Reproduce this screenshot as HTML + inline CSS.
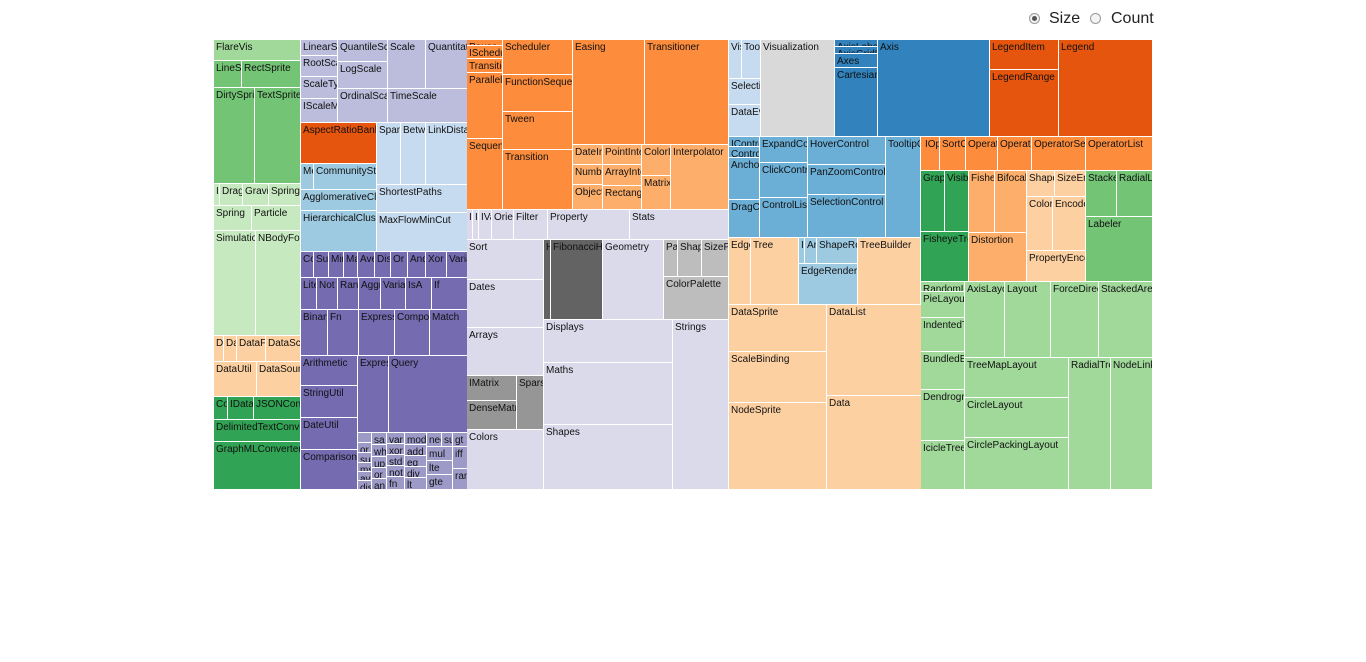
<!DOCTYPE html>
<html><head><meta charset="utf-8"><style>
body{margin:0;width:1366px;height:662px;background:#fff;font-family:"Liberation Sans",Arial,sans-serif;position:relative;overflow:hidden}
#t div{position:absolute;box-sizing:border-box;border-right:1px solid #fff;border-bottom:1px solid #fff;overflow:hidden;white-space:nowrap;font-size:10px;line-height:11px;padding:2px 0 0 2px;color:#111}
.a{background:#a1d99b}.b{background:#74c476}.c{background:#c7e9c0}.d{background:#fdd0a2}.e{background:#31a354}
.s{background:#bcbddc}.k{background:#9ecae1}.r{background:#e6550d}.g{background:#c6dbef}.q{background:#756bb1}.m{background:#9e9ac8}
.o{background:#fd8d3c}.i{background:#fdae6b}.u{background:#dadaeb}.h{background:#636363}.p{background:#bdbdbd}.x{background:#969696}
.v{background:#d9d9d9}.ax{background:#3182bd}.ct{background:#6baed6}
.ctl{position:absolute;top:10px;font-size:16px;color:#222}
.rad{position:absolute;top:13px;width:11px;height:11px;border-radius:50%;border:1px solid #999;box-sizing:border-box;background:#f4f4f4}
</style></head><body>
<div class="rad" style="left:1029px"><div style="position:absolute;left:2px;top:2px;width:5px;height:5px;border-radius:50%;background:#555"></div></div>
<div class="ctl" style="left:1049px">Size</div>
<div class="rad" style="left:1090px"></div>
<div class="ctl" style="left:1111px">Count</div>
<div id="t">
<div class="a" style="left:214px;top:40px;width:87px;height:21px">FlareVis</div>
<div class="b" style="left:214px;top:61px;width:28px;height:27px">LineSprite</div>
<div class="b" style="left:242px;top:61px;width:59px;height:27px">RectSprite</div>
<div class="b" style="left:214px;top:88px;width:41px;height:96px">DirtySprite</div>
<div class="b" style="left:255px;top:88px;width:46px;height:96px">TextSprite</div>
<div class="c" style="left:214px;top:184px;width:6px;height:22px">I</div>
<div class="c" style="left:220px;top:184px;width:23px;height:22px">DragForce</div>
<div class="c" style="left:243px;top:184px;width:26px;height:22px">GravityForce</div>
<div class="c" style="left:269px;top:184px;width:32px;height:22px">SpringForce</div>
<div class="c" style="left:214px;top:206px;width:38px;height:25px">Spring</div>
<div class="c" style="left:252px;top:206px;width:49px;height:25px">Particle</div>
<div class="c" style="left:214px;top:231px;width:42px;height:105px">Simulation</div>
<div class="c" style="left:256px;top:231px;width:45px;height:105px">NBodyForce</div>
<div class="d" style="left:214px;top:336px;width:10px;height:26px">D</div>
<div class="d" style="left:224px;top:336px;width:13px;height:26px">Da</div>
<div class="d" style="left:237px;top:336px;width:29px;height:26px">DataField</div>
<div class="d" style="left:266px;top:336px;width:35px;height:26px">DataSchema</div>
<div class="d" style="left:214px;top:362px;width:43px;height:35px">DataUtil</div>
<div class="d" style="left:257px;top:362px;width:44px;height:35px">DataSource</div>
<div class="e" style="left:214px;top:397px;width:14px;height:23px">Co</div>
<div class="e" style="left:228px;top:397px;width:26px;height:23px">IDataConverter</div>
<div class="e" style="left:254px;top:397px;width:47px;height:23px">JSONConverter</div>
<div class="e" style="left:214px;top:420px;width:87px;height:22px">DelimitedTextConverter</div>
<div class="e" style="left:214px;top:442px;width:87px;height:48px">GraphMLConverter</div>

<div class="s" style="left:301px;top:40px;width:37px;height:16px">LinearScale</div>
<div class="s" style="left:301px;top:56px;width:37px;height:21px">RootScale</div>
<div class="s" style="left:301px;top:77px;width:37px;height:22px">ScaleType</div>
<div class="s" style="left:301px;top:99px;width:37px;height:24px">IScaleMap</div>
<div class="s" style="left:338px;top:40px;width:50px;height:22px">QuantileScale</div>
<div class="s" style="left:338px;top:62px;width:50px;height:27px">LogScale</div>
<div class="s" style="left:388px;top:40px;width:38px;height:49px">Scale</div>
<div class="s" style="left:426px;top:40px;width:42px;height:49px">QuantitativeScale</div>
<div class="s" style="left:338px;top:89px;width:50px;height:34px">OrdinalScale</div>
<div class="s" style="left:388px;top:89px;width:80px;height:34px">TimeScale</div>
<div class="r" style="left:301px;top:123px;width:76px;height:41px">AspectRatioBanker</div>
<div class="k" style="left:301px;top:164px;width:13px;height:26px">MergeEdge</div>
<div class="k" style="left:314px;top:164px;width:63px;height:26px">CommunityStructure</div>
<div class="k" style="left:301px;top:190px;width:76px;height:21px">AgglomerativeCluster</div>
<div class="k" style="left:301px;top:211px;width:76px;height:41px">HierarchicalCluster</div>
<div class="g" style="left:377px;top:123px;width:24px;height:62px">SpanningTree</div>
<div class="g" style="left:401px;top:123px;width:25px;height:62px">BetweennessCentrality</div>
<div class="g" style="left:426px;top:123px;width:42px;height:62px">LinkDistance</div>
<div class="g" style="left:377px;top:185px;width:91px;height:28px">ShortestPaths</div>
<div class="g" style="left:377px;top:213px;width:91px;height:39px">MaxFlowMinCut</div>

<div class="q" style="left:301px;top:252px;width:13px;height:26px">Count</div>
<div class="q" style="left:314px;top:252px;width:15px;height:26px">Sum</div>
<div class="q" style="left:329px;top:252px;width:15px;height:26px">Min</div>
<div class="q" style="left:344px;top:252px;width:14px;height:26px">Max</div>
<div class="q" style="left:358px;top:252px;width:17px;height:26px">Average</div>
<div class="q" style="left:375px;top:252px;width:16px;height:26px">Distinct</div>
<div class="q" style="left:391px;top:252px;width:17px;height:26px">Or</div>
<div class="q" style="left:408px;top:252px;width:18px;height:26px">And</div>
<div class="q" style="left:426px;top:252px;width:21px;height:26px">Xor</div>
<div class="q" style="left:447px;top:252px;width:21px;height:26px">Variance</div>
<div class="q" style="left:301px;top:278px;width:16px;height:32px">Literal</div>
<div class="q" style="left:317px;top:278px;width:21px;height:32px">Not</div>
<div class="q" style="left:338px;top:278px;width:21px;height:32px">Range</div>
<div class="q" style="left:359px;top:278px;width:22px;height:32px">AggregateExpression</div>
<div class="q" style="left:381px;top:278px;width:25px;height:32px">Variable</div>
<div class="q" style="left:406px;top:278px;width:26px;height:32px">IsA</div>
<div class="q" style="left:432px;top:278px;width:36px;height:32px">If</div>
<div class="q" style="left:301px;top:310px;width:27px;height:46px">BinaryExpression</div>
<div class="q" style="left:328px;top:310px;width:31px;height:46px">Fn</div>
<div class="q" style="left:359px;top:310px;width:36px;height:46px">ExpressionIterator</div>
<div class="q" style="left:395px;top:310px;width:35px;height:46px">CompositeExpression</div>
<div class="q" style="left:430px;top:310px;width:38px;height:46px">Match</div>
<div class="q" style="left:301px;top:356px;width:57px;height:30px">Arithmetic</div>
<div class="q" style="left:301px;top:386px;width:57px;height:32px">StringUtil</div>
<div class="q" style="left:301px;top:418px;width:57px;height:32px">DateUtil</div>
<div class="q" style="left:301px;top:450px;width:57px;height:40px">Comparison</div>
<div class="q" style="left:358px;top:356px;width:31px;height:77px">Expression</div>
<div class="q" style="left:389px;top:356px;width:79px;height:77px">Query</div>
<div class="m" style="left:358px;top:433px;width:14px;height:10px"></div>
<div class="m" style="left:358px;top:443px;width:14px;height:10px">or</div>
<div class="m" style="left:358px;top:453px;width:14px;height:10px">su</div>
<div class="m" style="left:358px;top:463px;width:14px;height:9px">ms</div>
<div class="m" style="left:358px;top:472px;width:14px;height:9px">av</div>
<div class="m" style="left:358px;top:481px;width:14px;height:9px">dis</div>
<div class="m" style="left:372px;top:433px;width:15px;height:12px">sa</div>
<div class="m" style="left:372px;top:445px;width:15px;height:12px">wh</div>
<div class="m" style="left:372px;top:457px;width:15px;height:11px">up</div>
<div class="m" style="left:372px;top:468px;width:15px;height:11px">or</div>
<div class="m" style="left:372px;top:479px;width:15px;height:11px">an</div>
<div class="m" style="left:387px;top:433px;width:18px;height:11px">var</div>
<div class="m" style="left:387px;top:444px;width:18px;height:11px">xor</div>
<div class="m" style="left:387px;top:455px;width:18px;height:11px">std</div>
<div class="m" style="left:387px;top:466px;width:18px;height:11px">not</div>
<div class="m" style="left:387px;top:477px;width:18px;height:13px">fn</div>
<div class="m" style="left:405px;top:433px;width:22px;height:12px">mod</div>
<div class="m" style="left:405px;top:445px;width:22px;height:11px">add</div>
<div class="m" style="left:405px;top:456px;width:22px;height:11px">eq</div>
<div class="m" style="left:405px;top:467px;width:22px;height:11px">div</div>
<div class="m" style="left:405px;top:478px;width:22px;height:12px">lt</div>
<div class="m" style="left:427px;top:433px;width:15px;height:14px">neq</div>
<div class="m" style="left:442px;top:433px;width:11px;height:14px">sub</div>
<div class="m" style="left:453px;top:433px;width:15px;height:14px">gt</div>
<div class="m" style="left:427px;top:447px;width:26px;height:14px">mul</div>
<div class="m" style="left:453px;top:447px;width:15px;height:22px">iff</div>
<div class="m" style="left:427px;top:461px;width:26px;height:14px">lte</div>
<div class="m" style="left:427px;top:475px;width:26px;height:15px">gte</div>
<div class="m" style="left:453px;top:469px;width:15px;height:21px">range</div>

<div class="o" style="left:467px;top:40px;width:36px;height:6px">Pause</div>
<div class="o" style="left:467px;top:46px;width:36px;height:13px">ISchedulable</div>
<div class="o" style="left:467px;top:59px;width:36px;height:14px">Transition</div>
<div class="o" style="left:467px;top:73px;width:36px;height:66px">Parallel</div>
<div class="o" style="left:467px;top:139px;width:36px;height:71px">Sequence</div>
<div class="o" style="left:503px;top:40px;width:70px;height:35px">Scheduler</div>
<div class="o" style="left:503px;top:75px;width:70px;height:37px">FunctionSequence</div>
<div class="o" style="left:503px;top:112px;width:70px;height:38px">Tween</div>
<div class="o" style="left:503px;top:150px;width:70px;height:60px">Transition</div>
<div class="o" style="left:573px;top:40px;width:72px;height:105px">Easing</div>
<div class="o" style="left:645px;top:40px;width:84px;height:105px">Transitioner</div>
<div class="i" style="left:573px;top:145px;width:30px;height:20px">DateInterpolator</div>
<div class="i" style="left:573px;top:165px;width:30px;height:20px">NumberInterpolator</div>
<div class="i" style="left:573px;top:185px;width:30px;height:25px">ObjectInterpolator</div>
<div class="i" style="left:603px;top:145px;width:39px;height:20px">PointInterpolator</div>
<div class="i" style="left:603px;top:165px;width:39px;height:21px">ArrayInterpolator</div>
<div class="i" style="left:603px;top:186px;width:39px;height:24px">RectangleInterpolator</div>
<div class="i" style="left:642px;top:145px;width:29px;height:31px">ColorInterpolator</div>
<div class="i" style="left:642px;top:176px;width:29px;height:34px">Matrix</div>
<div class="i" style="left:671px;top:145px;width:58px;height:65px">Interpolator</div>
<div class="u" style="left:467px;top:210px;width:6px;height:30px">I</div>
<div class="u" style="left:473px;top:210px;width:6px;height:30px">I</div>
<div class="u" style="left:479px;top:210px;width:13px;height:30px">IValue</div>
<div class="u" style="left:492px;top:210px;width:22px;height:30px">Orientation</div>
<div class="u" style="left:514px;top:210px;width:34px;height:30px">Filter</div>
<div class="u" style="left:548px;top:210px;width:82px;height:30px">Property</div>
<div class="u" style="left:630px;top:210px;width:99px;height:30px">Stats</div>
<div class="u" style="left:467px;top:240px;width:77px;height:40px">Sort</div>
<div class="u" style="left:467px;top:280px;width:77px;height:48px">Dates</div>
<div class="u" style="left:467px;top:328px;width:77px;height:48px">Arrays</div>
<div class="x" style="left:467px;top:376px;width:50px;height:25px">IMatrix</div>
<div class="x" style="left:467px;top:401px;width:50px;height:29px">DenseMatrix</div>
<div class="x" style="left:517px;top:376px;width:27px;height:54px">SparseMatrix</div>
<div class="u" style="left:467px;top:430px;width:77px;height:60px">Colors</div>
<div class="h" style="left:544px;top:240px;width:7px;height:80px">HeapNode</div>
<div class="h" style="left:551px;top:240px;width:52px;height:80px">FibonacciHeap</div>
<div class="u" style="left:603px;top:240px;width:61px;height:80px">Geometry</div>
<div class="p" style="left:664px;top:240px;width:14px;height:37px">Palette</div>
<div class="p" style="left:678px;top:240px;width:24px;height:37px">ShapePalette</div>
<div class="p" style="left:702px;top:240px;width:27px;height:37px">SizePalette</div>
<div class="p" style="left:664px;top:277px;width:65px;height:43px">ColorPalette</div>
<div class="u" style="left:544px;top:320px;width:129px;height:43px">Displays</div>
<div class="u" style="left:544px;top:363px;width:129px;height:62px">Maths</div>
<div class="u" style="left:544px;top:425px;width:129px;height:65px">Shapes</div>
<div class="u" style="left:673px;top:320px;width:56px;height:170px">Strings</div>

<div class="g" style="left:729px;top:40px;width:13px;height:39px">VisualizationEvent</div>
<div class="g" style="left:742px;top:40px;width:19px;height:39px">TooltipEvent</div>
<div class="g" style="left:729px;top:79px;width:32px;height:26px">SelectionEvent</div>
<div class="g" style="left:729px;top:105px;width:32px;height:32px">DataEvent</div>
<div class="v" style="left:761px;top:40px;width:74px;height:97px">Visualization</div>
<div class="ax" style="left:835px;top:40px;width:43px;height:7px">AxisLabel</div>
<div class="ax" style="left:835px;top:47px;width:43px;height:7px">AxisGridLine</div>
<div class="ax" style="left:835px;top:54px;width:43px;height:14px">Axes</div>
<div class="ax" style="left:835px;top:68px;width:43px;height:69px">CartesianAxes</div>
<div class="ax" style="left:878px;top:40px;width:112px;height:97px">Axis</div>
<div class="r" style="left:990px;top:40px;width:69px;height:30px">LegendItem</div>
<div class="r" style="left:990px;top:70px;width:69px;height:67px">LegendRange</div>
<div class="r" style="left:1059px;top:40px;width:94px;height:97px">Legend</div>
<div class="ct" style="left:729px;top:137px;width:31px;height:10px">IControl</div>
<div class="ct" style="left:729px;top:147px;width:31px;height:11px">Control</div>
<div class="ct" style="left:729px;top:158px;width:31px;height:42px">AnchorControl</div>
<div class="ct" style="left:729px;top:200px;width:31px;height:38px">DragControl</div>
<div class="ct" style="left:760px;top:137px;width:48px;height:26px">ExpandControl</div>
<div class="ct" style="left:760px;top:163px;width:48px;height:35px">ClickControl</div>
<div class="ct" style="left:760px;top:198px;width:48px;height:40px">ControlList</div>
<div class="ct" style="left:808px;top:137px;width:78px;height:28px">HoverControl</div>
<div class="ct" style="left:808px;top:165px;width:78px;height:30px">PanZoomControl</div>
<div class="ct" style="left:808px;top:195px;width:78px;height:43px">SelectionControl</div>
<div class="ct" style="left:886px;top:137px;width:35px;height:101px">TooltipControl</div>
<div class="d" style="left:729px;top:238px;width:22px;height:67px">EdgeSprite</div>
<div class="d" style="left:751px;top:238px;width:48px;height:67px">Tree</div>
<div class="k" style="left:799px;top:238px;width:6px;height:26px">I</div>
<div class="k" style="left:805px;top:238px;width:12px;height:26px">ArrowType</div>
<div class="k" style="left:817px;top:238px;width:41px;height:26px">ShapeRenderer</div>
<div class="k" style="left:799px;top:264px;width:59px;height:41px">EdgeRenderer</div>
<div class="d" style="left:858px;top:238px;width:63px;height:67px">TreeBuilder</div>
<div class="d" style="left:729px;top:305px;width:98px;height:47px">DataSprite</div>
<div class="d" style="left:729px;top:352px;width:98px;height:51px">ScaleBinding</div>
<div class="d" style="left:729px;top:403px;width:98px;height:87px">NodeSprite</div>
<div class="d" style="left:827px;top:305px;width:95px;height:91px">DataList</div>
<div class="d" style="left:827px;top:396px;width:95px;height:94px">Data</div>
<div class="o" style="left:921px;top:137px;width:2px;height:34px"></div>
<div class="o" style="left:923px;top:137px;width:17px;height:34px">IOperator</div>
<div class="o" style="left:940px;top:137px;width:26px;height:34px">SortOperator</div>
<div class="o" style="left:966px;top:137px;width:32px;height:34px">OperatorSwitch</div>
<div class="o" style="left:998px;top:137px;width:34px;height:34px">OperatorSequence</div>
<div class="o" style="left:1032px;top:137px;width:54px;height:34px">OperatorSequence</div>
<div class="o" style="left:1086px;top:137px;width:67px;height:34px">OperatorList</div>
<div class="e" style="left:921px;top:171px;width:24px;height:61px">GraphDistanceFilter</div>
<div class="e" style="left:945px;top:171px;width:24px;height:61px">VisibilityFilter</div>
<div class="e" style="left:921px;top:232px;width:48px;height:50px">FisheyeTreeFilter</div>
<div class="i" style="left:969px;top:171px;width:26px;height:62px">FisheyeDistortion</div>
<div class="i" style="left:995px;top:171px;width:32px;height:62px">BifocalDistortion</div>
<div class="i" style="left:969px;top:233px;width:58px;height:49px">Distortion</div>
<div class="d" style="left:1027px;top:171px;width:28px;height:26px">ShapeEncoder</div>
<div class="d" style="left:1055px;top:171px;width:31px;height:26px">SizeEncoder</div>
<div class="d" style="left:1027px;top:197px;width:26px;height:54px">ColorEncoder</div>
<div class="d" style="left:1053px;top:197px;width:33px;height:54px">Encoder</div>
<div class="d" style="left:1027px;top:251px;width:59px;height:31px">PropertyEncoder</div>
<div class="b" style="left:1086px;top:171px;width:31px;height:46px">StackedAreaLabeler</div>
<div class="b" style="left:1117px;top:171px;width:36px;height:46px">RadialLabeler</div>
<div class="b" style="left:1086px;top:217px;width:67px;height:65px">Labeler</div>
<div class="a" style="left:921px;top:282px;width:44px;height:10px">RandomLayout</div>
<div class="a" style="left:921px;top:292px;width:44px;height:26px">PieLayout</div>
<div class="a" style="left:921px;top:318px;width:44px;height:34px">IndentedTreeLayout</div>
<div class="a" style="left:921px;top:352px;width:44px;height:38px">BundledEdgeRouter</div>
<div class="a" style="left:921px;top:390px;width:44px;height:51px">DendrogramLayout</div>
<div class="a" style="left:921px;top:441px;width:44px;height:49px">IcicleTreeLayout</div>
<div class="a" style="left:965px;top:282px;width:40px;height:76px">AxisLayout</div>
<div class="a" style="left:1005px;top:282px;width:46px;height:76px">Layout</div>
<div class="a" style="left:1051px;top:282px;width:48px;height:76px">ForceDirectedLayout</div>
<div class="a" style="left:1099px;top:282px;width:54px;height:76px">StackedAreaLayout</div>
<div class="a" style="left:965px;top:358px;width:104px;height:40px">TreeMapLayout</div>
<div class="a" style="left:965px;top:398px;width:104px;height:40px">CircleLayout</div>
<div class="a" style="left:965px;top:438px;width:104px;height:52px">CirclePackingLayout</div>
<div class="a" style="left:1069px;top:358px;width:42px;height:132px">RadialTreeLayout</div>
<div class="a" style="left:1111px;top:358px;width:42px;height:132px">NodeLinkTreeLayout</div>
</div>
</body></html>
